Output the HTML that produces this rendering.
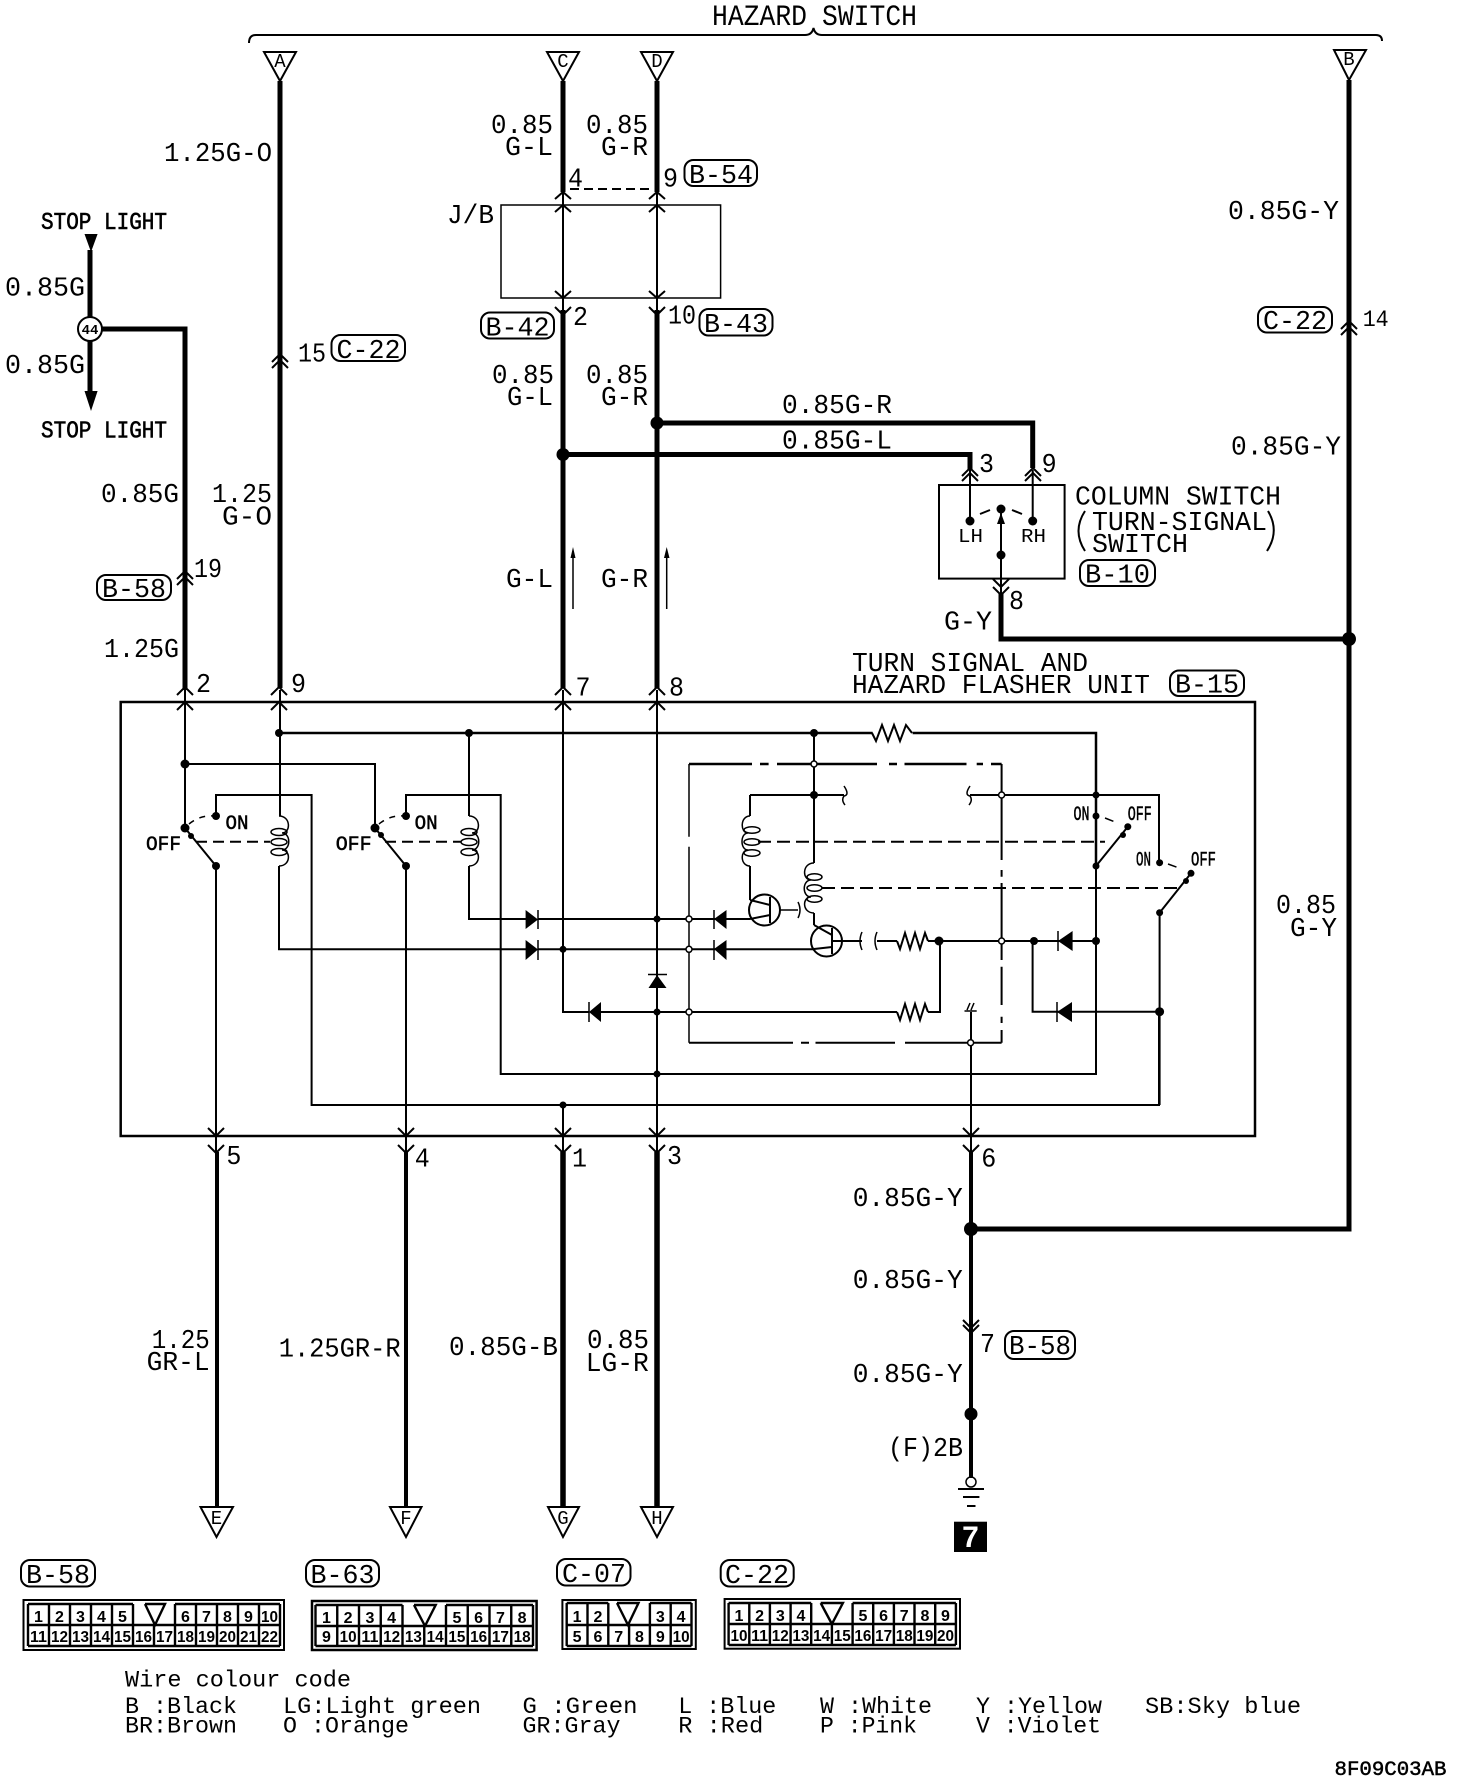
<!DOCTYPE html>
<html lang="en"><head><meta charset="utf-8"><title>Hazard switch wiring diagram</title>
<style>
html,body{margin:0;padding:0;background:#fff}
svg{display:block}
text{font-family:"Liberation Mono",monospace;fill:#000}
.a{font-size:27px}.b{font-size:24px;stroke:#000;stroke-width:.6}.c{font-size:20px;stroke:#000;stroke-width:.5}.d{font-size:23px}.h{font-size:30px}
.n text{font-family:"Liberation Sans",sans-serif;font-weight:bold;font-size:16px;text-anchor:middle}
.l{fill:none;stroke:#000;stroke-width:2}
.t{fill:none;stroke:#000;stroke-width:1.5}
.w{fill:none;stroke:#000;stroke-width:5}
.k{fill:#000;stroke:none}
.o{fill:#fff;stroke:#000;stroke-width:1.5}
.tri text{font-size:19px;text-anchor:middle}
.tri path{stroke-width:2}
</style></head><body>
<svg xmlns="http://www.w3.org/2000/svg" width="1472" height="1782" viewBox="0 0 1472 1782">
<rect width="1472" height="1782" fill="#fff"/>

<!-- brace -->
<path class="l" d="M249 43 Q249 35 256 35 L805 35 Q812 35 813.5 28 Q815 35 822 35 L1376 35 Q1382 35 1382 41"/>
<text class="h" x="712" y="25" textLength="95" lengthAdjust="spacingAndGlyphs">HAZARD</text>
<text class="h" x="822" y="25" textLength="95" lengthAdjust="spacingAndGlyphs">SWITCH</text>

<!-- top triangles -->
<g class="tri">
<path class="t" d="M264 52 L296 52 L280 81 Z M547 52 L579 52 L563 81 Z M641 52 L673 52 L657 81 Z M1334 50 L1366 50 L1349 80 Z"/>
<text x="280" y="67">A</text><text x="563" y="67">C</text><text x="657" y="67">D</text><text x="1349" y="65">B</text>
<path class="t" d="M200.5 1507 L233 1507 L216.5 1537 Z M390 1507 L421.5 1507 L406 1537 Z M548 1507 L579 1507 L563 1537 Z M641 1507 L673 1507 L657 1537 Z"/>
<text x="216.5" y="1524">E</text><text x="406" y="1524">F</text><text x="563" y="1524">G</text><text x="657" y="1524">H</text>
</g>

<!-- heavy wires -->
<path class="w" d="M280 81 V688 M563 81 V192 M657 81 V192 M563 310 V688 M657 310 V688 M1349 80 V1229 H971"/>
<path class="w" d="M657 423 H1032.7 V468 M563 454.5 H970 V470 M1001 594 V639 H1349"/>
<path class="w" d="M90 250 V395 M185 690 V329 H100"/>
<path class="w" style="stroke-width:4" d="M217 1152 V1508 M406 1152 V1508 M971 1152 V1478"/>
<path class="w" style="stroke-width:5.5" d="M563 1152 V1508 M657 1152 V1508"/>
<path class="k" d="M84.5 234 H97.6 L91 252 Z M84.5 391 H97.6 L91 411 Z"/>
<circle class="o" cx="90" cy="329" r="12" style="stroke-width:2"/>
<text x="90" y="334" font-size="14" font-weight="bold" text-anchor="middle">44</text>
<circle class="k" cx="657" cy="423" r="6.5"/><circle class="k" cx="563" cy="454.5" r="6.5"/>
<circle class="k" cx="1349" cy="639" r="7"/><circle class="k" cx="971" cy="1229" r="7"/><circle class="k" cx="971" cy="1414" r="6.5"/>

<!-- J/B -->
<rect class="t" x="501" y="205" width="219.6" height="93"/>
<path class="l" d="M563 190 V312 M657 190 V312"/>
<path class="l" stroke-dasharray="9 5" d="M570 189 H650"/>
<path class="l" d="M555 199 L563 192 L571 199 M555 212 L563 205 L571 212 M649 199 L657 192 L665 199 M649 212 L657 205 L665 212 M555 291 L563 298 L571 291 M555 307 L563 315 L571 307 M649 291 L657 298 L665 291 M649 307 L657 315 L665 307"/>

<!-- small arrows -->
<path class="t" d="M573 552 V609 M666.7 552 V609"/>
<path class="k" d="M573 547 L570.5 558 H575.5 Z M666.7 547 L664 558 H669.5 Z"/>

<!-- double chevrons -->
<path class="l" d="M272 362 L280 354 L288 362 M272 368 L280 360 L288 368 M177 579 L185 571 L193 579 M177 585 L185 577 L193 585 M1341 329 L1349 321 L1357 329 M1341 335 L1349 327 L1357 335"/>
<path class="l" d="M962 476 L970 468 L978 476 M962 481 L970 473 L978 481 M1025 476 L1033 468 L1041 476 M1025 481 L1033 473 L1041 481 M993 579 L1001 587 L1009 579 M993 587 L1001 595 L1009 587"/>
<path class="l" d="M963 1320 L971 1328 L979 1320 M963 1325 L971 1333 L979 1325"/>

<!-- column switch -->
<rect class="t" x="939" y="485" width="125.6" height="93.6" style="stroke-width:2"/>
<path class="l" d="M970 470 V521 M1032.7 470 V521 M1001 509 V594"/>
<circle class="k" cx="970" cy="521" r="4.5"/><circle class="k" cx="1032.7" cy="521" r="4.5"/><circle class="k" cx="1001" cy="509" r="4.5"/><circle class="k" cx="1001" cy="555" r="4.5"/>
<path class="k" d="M1001 513 L997 524 H1005 Z"/>
<path class="l" d="M980 514 L990 510 M1012 510 L1022 514"/>
<text x="958" y="542" font-size="19" textLength="25" lengthAdjust="spacingAndGlyphs">LH</text>
<text x="1021" y="542" font-size="19" textLength="25" lengthAdjust="spacingAndGlyphs">RH</text>
<path class="l" d="M1085 511 Q1072 531 1085 551 M1268 511 Q1280 531 1267 551"/>

<!-- flasher unit box -->
<rect class="l" x="120.7" y="702" width="1134.3" height="434" style="stroke-width:2.5"/>
<path class="l" d="M185 690 V828 M280 690 V816 M563 690 V1012 H589 M657 690 V1152 M216 866 V1154 M406 866 V1154 M563 1105 V1154 M971 1012 V1154"/>
<path class="l" d="M177 695 L185 687 L193 695 M177 710 L185 702 L193 710 M271 695 L279 687 L287 695 M271 710 L279 702 L287 710 M555 695 L563 687 L571 695 M555 710 L563 702 L571 710 M649 695 L657 687 L665 695 M649 710 L657 702 L665 710"/>
<path class="l" d="M208 1128 L216 1136 L224 1128 M208 1145 L216 1153 L224 1145 M398 1128 L406 1136 L414 1128 M398 1145 L406 1153 L414 1145 M555 1128 L563 1136 L571 1128 M555 1145 L563 1153 L571 1145 M649 1128 L657 1136 L665 1128 M649 1145 L657 1153 L665 1145 M963 1128 L971 1136 L979 1128 M963 1145 L971 1153 L979 1145"/>

<!-- left relays -->
<path class="l" style="stroke-width:2.5" d="M279 733 H872.6 M912.6 733 H1096 V866"/>
<path class="l" d="M469 733 V816 M279 866 V949.3 H526 M469 866 V919 H526"/>
<path class="l" d="M185 764 H375 V828 M216 816 V795 H311.6 V1105 H1159 V1011.7 M406 816 V795 H500.7 V1074 H1096 V941"/>
<path class="l" d="M185 828 L216 866 M375 828 L406 866"/>
<path class="t" stroke-dasharray="6 6" d="M189 824 Q200 815 214 816 M379 824 Q390 815 404 816"/>
<path class="l" stroke-dasharray="11 6" d="M196 841.7 H270 M385 841.7 H461"/>
<path class="t" d="M279 816 C291 816 291 833 282 833 C291 833 291 850 282 850 C291 850 291 866 279 866 M469 816 C481 816 481 833 472 833 C481 833 481 850 472 850 C481 850 481 866 469 866"/>
<ellipse class="t" cx="279" cy="832" rx="8" ry="3.5"/><ellipse class="t" cx="279" cy="842" rx="8" ry="3.5"/><ellipse class="t" cx="279" cy="852" rx="8" ry="3.5"/>
<ellipse class="t" cx="469" cy="832" rx="8" ry="3.5"/><ellipse class="t" cx="469" cy="842" rx="8" ry="3.5"/><ellipse class="t" cx="469" cy="852" rx="8" ry="3.5"/>
<g class="k">
<circle cx="185" cy="764" r="4.5"/><circle cx="279" cy="733" r="4"/><circle cx="469" cy="733" r="4"/><circle cx="185" cy="828" r="4.5"/><circle cx="191" cy="836" r="3"/><circle cx="216" cy="816" r="4"/><circle cx="216" cy="866" r="4"/>
<circle cx="375" cy="828" r="4.5"/><circle cx="381" cy="835" r="3"/><circle cx="406" cy="816" r="4"/><circle cx="406" cy="866" r="4"/>
<circle cx="563" cy="949.3" r="3.5"/><circle cx="657" cy="919" r="3.5"/><circle cx="657" cy="1012" r="3.5"/><circle cx="657" cy="1074" r="3.5"/><circle cx="563" cy="1105" r="3.5"/>
</g>

<!-- diodes -->
<path class="k" d="M525.6 910 L538 919.5 L525.6 929 Z M525.6 940 L538 949.5 L525.6 960 Z M601 1002 L589 1012 L601 1022 Z M726.5 910 L714 919 L726.5 929 Z M726.5 940 L714 949 L726.5 960 Z M1072.6 931 L1058 941 L1072.6 951 Z M1072 1002 L1057 1012 L1072 1022 Z M648.5 988 L657 975 L666.5 988 Z"/>
<path class="t" d="M538 910 V929 M538 940 V960 M589 1002 V1022 M714 910 V929 M714 940 V960 M1058 931 V951 M1057 1002 V1022 M648 974.5 H667"/>

<!-- horizontal rails -->
<path class="l" d="M538 919 H750 M538 949.3 H814 M601 1012 H897 M928 1012 H940 V941 M928 941 H1096 M1032.6 941 V1011.7 H1072 H1159.6 M862 941 H832 M877 941 H897"/>
<path class="l" d="M814 733 V863 M750 795 H844 M970 795 H1159 V862.7 M750 795 V816 M750 866 V900 M814 913 V925 M1096 866 V1074 M1159.6 912.7 V1105"/>

<!-- dash-dot rectangle -->
<path class="l" style="stroke-width:2.5" d="M689 764 H752 M760 764 H768.6 M777 764 H877 M889 764 H897 M904.5 764 H966.5 M976.7 764 H983 M991 764 H1001.6"/>
<path class="t" d="M689 764 V836.7 M689 846.7 V1042.7"/>
<path class="l" d="M1001.6 764 V860 M1001.6 870 V876.7 M1001.6 883 V960 M1001.6 966.7 V1005 M1001.6 1016.7 V1023 M1001.6 1030 V1042.7"/>
<path class="l" d="M689 1042.7 H793 M801 1042.7 H809 M815.5 1042.7 H895 M905 1042.7 H1001.6"/>

<!-- resistors -->
<path class="l" d="M872 733 L876 741 L882 725 L888 741 L894 725 L900 741 L906 725 L912 733 M897 941 L900 949 L905 933 L910 949 L915 933 L920 949 L925 933 L928 941 M897 1012 L900 1020 L905 1004 L910 1020 L915 1004 L920 1020 L925 1004 L928 1012"/>

<!-- breaks -->
<path class="t" d="M844 786 Q850 795 844 796 Q841 800 845 805 M970 786 Q964 795 970 796 Q973 800 969 805 M862 932 Q858 941 862 950 M877 932 Q873 941 877 950 M798 902 Q802 910 798 918"/>
<path class="t" d="M964.5 1011 H976.7 M967 1010 L970 1003 M971 1010 L974 1003"/>

<!-- inner coils -->
<path class="t" d="M814 863 C802 863 802 880 811 880 C802 880 802 897 811 897 C802 897 802 913 814 913 M750 816 C740 816 740 833 748 833 C740 833 740 850 748 850 C740 850 740 866 750 866"/>
<ellipse class="t" cx="814.5" cy="877" rx="7.5" ry="3.2"/><ellipse class="t" cx="814.5" cy="888" rx="7.5" ry="3.2"/><ellipse class="t" cx="814.5" cy="899" rx="7.5" ry="3.2"/>
<ellipse class="t" cx="752" cy="830" rx="8" ry="3.2"/><ellipse class="t" cx="752" cy="842" rx="8" ry="3.2"/><ellipse class="t" cx="752" cy="853" rx="8" ry="3.2"/>

<!-- transistors -->
<circle class="l" cx="764.5" cy="910" r="15.5"/><circle class="l" cx="826.5" cy="941" r="15.5"/>
<path class="l" d="M770 897 V923 M750 900 L770 905 M770 915 L750 919 M832 928 V954 M814 925 L832 935 M832 947 L814 949"/>
<path class="t" d="M780 910 H798 M842 941 H862"/>

<!-- right switches -->
<path class="l" d="M1096 866 L1127.8 826.7 M1159.6 912.7 L1191 873.3"/>
<path class="t" stroke-dasharray="9 20" d="M1105 818 L1128 827 M1168 864 L1190 872"/>
<path class="l" stroke-dasharray="13 6" d="M758 841.7 H1105"/>
<path class="l" stroke-dasharray="13 6" d="M822 888 H1181"/>
<g class="k">
<circle cx="1096" cy="795" r="3.5"/><circle cx="1096" cy="816" r="3.5"/><circle cx="1127.8" cy="826.7" r="3.5"/><circle cx="1123" cy="835" r="3"/><circle cx="1096" cy="866" r="3.5"/>
<circle cx="1159.6" cy="862.7" r="3.5"/><circle cx="1191" cy="873.3" r="3.5"/><circle cx="1186" cy="881" r="3"/><circle cx="1159.6" cy="912.7" r="3.5"/>
<circle cx="814" cy="733" r="4"/><circle cx="814" cy="795" r="4"/><circle cx="939" cy="941" r="4.5"/><circle cx="1034" cy="941" r="4"/><circle cx="1096" cy="941" r="4"/><circle cx="1159.6" cy="1011.7" r="4.5"/>
</g>
<g class="o"><circle cx="689" cy="919" r="3"/><circle cx="689" cy="949.3" r="3"/><circle cx="689" cy="1012" r="3"/><circle cx="814" cy="764" r="3"/><circle cx="1001.6" cy="795" r="3"/><circle cx="1001.6" cy="941" r="3"/><circle cx="970.6" cy="1042.7" r="3"/></g>

<!-- ground -->
<circle class="t" cx="971" cy="1482" r="5"/>
<path class="l" d="M958 1489 H984 M963 1497 H979.4 M967 1506 H975.5"/>
<rect x="954" y="1521.7" width="33" height="30.3" fill="#000"/>
<text x="970.5" y="1547" font-size="30" font-weight="bold" text-anchor="middle" style="fill:#fff;font-family:'Liberation Sans',sans-serif">7</text>

<!-- labels -->
<g class="b">
<text x="41" y="229" textLength="126" lengthAdjust="spacingAndGlyphs">STOP LIGHT</text>
<text x="41" y="437.5" textLength="126" lengthAdjust="spacingAndGlyphs">STOP LIGHT</text>
</g>
<g class="a">
<text x="164" y="161" textLength="108" lengthAdjust="spacingAndGlyphs">1.25G-O</text>
<text x="5" y="295.5" textLength="80" lengthAdjust="spacingAndGlyphs">0.85G</text>
<text x="5" y="373" textLength="80" lengthAdjust="spacingAndGlyphs">0.85G</text>
<text x="101" y="502" textLength="78" lengthAdjust="spacingAndGlyphs">0.85G</text>
<text x="212" y="502" textLength="60" lengthAdjust="spacingAndGlyphs">1.25</text>
<text x="222" y="524.5" textLength="50" lengthAdjust="spacingAndGlyphs">G-O</text>
<text x="194" y="577" textLength="28" lengthAdjust="spacingAndGlyphs">19</text>
<text x="104" y="657" textLength="75" lengthAdjust="spacingAndGlyphs">1.25G</text>
<text x="196" y="692" textLength="15" lengthAdjust="spacingAndGlyphs">2</text>
<text x="291" y="692" textLength="15" lengthAdjust="spacingAndGlyphs">9</text>
<text x="298" y="361.6" textLength="28" lengthAdjust="spacingAndGlyphs">15</text>
<text x="491" y="133" textLength="62" lengthAdjust="spacingAndGlyphs">0.85</text>
<text x="505" y="155" textLength="48" lengthAdjust="spacingAndGlyphs">G-L</text>
<text x="586" y="133" textLength="62" lengthAdjust="spacingAndGlyphs">0.85</text>
<text x="601" y="155" textLength="47" lengthAdjust="spacingAndGlyphs">G-R</text>
<text x="568" y="186.6" textLength="15" lengthAdjust="spacingAndGlyphs">4</text>
<text x="663" y="186.6" textLength="15" lengthAdjust="spacingAndGlyphs">9</text>
<text x="447" y="223" textLength="47" lengthAdjust="spacingAndGlyphs">J/B</text>
<text x="573" y="325" textLength="15" lengthAdjust="spacingAndGlyphs">2</text>
<text x="668" y="323.7" textLength="28" lengthAdjust="spacingAndGlyphs">10</text>
<text x="492" y="383" textLength="62" lengthAdjust="spacingAndGlyphs">0.85</text>
<text x="507" y="405" textLength="46" lengthAdjust="spacingAndGlyphs">G-L</text>
<text x="586" y="383" textLength="62" lengthAdjust="spacingAndGlyphs">0.85</text>
<text x="601" y="405" textLength="47" lengthAdjust="spacingAndGlyphs">G-R</text>
<text x="506" y="587" textLength="47" lengthAdjust="spacingAndGlyphs">G-L</text>
<text x="601" y="587" textLength="47" lengthAdjust="spacingAndGlyphs">G-R</text>
<text x="575.5" y="695.5" textLength="15" lengthAdjust="spacingAndGlyphs">7</text>
<text x="669" y="695.5" textLength="15" lengthAdjust="spacingAndGlyphs">8</text>
<text x="782" y="413" textLength="110" lengthAdjust="spacingAndGlyphs">0.85G-R</text>
<text x="782" y="448.6" textLength="110" lengthAdjust="spacingAndGlyphs">0.85G-L</text>
<text x="979" y="472" textLength="15" lengthAdjust="spacingAndGlyphs">3</text>
<text x="1041.6" y="472" textLength="15" lengthAdjust="spacingAndGlyphs">9</text>
<text x="1075" y="504.5" textLength="206" lengthAdjust="spacingAndGlyphs">COLUMN SWITCH</text>
<text x="1092" y="530" textLength="175" lengthAdjust="spacingAndGlyphs">TURN-SIGNAL</text>
<text x="1092" y="552" textLength="96" lengthAdjust="spacingAndGlyphs">SWITCH</text>
<text x="1009" y="609" textLength="15" lengthAdjust="spacingAndGlyphs">8</text>
<text x="944" y="629.5" textLength="48" lengthAdjust="spacingAndGlyphs">G-Y</text>
<text x="852" y="671" textLength="236" lengthAdjust="spacingAndGlyphs">TURN SIGNAL AND</text>
<text x="852" y="693" textLength="298" lengthAdjust="spacingAndGlyphs">HAZARD FLASHER UNIT</text>
<text x="1228" y="219" textLength="111" lengthAdjust="spacingAndGlyphs">0.85G-Y</text>
<text x="1362.7" y="326" textLength="26" lengthAdjust="spacingAndGlyphs" style="font-size:23px">14</text>
<text x="1231" y="454.5" textLength="110" lengthAdjust="spacingAndGlyphs">0.85G-Y</text>
<text x="1276" y="913" textLength="60" lengthAdjust="spacingAndGlyphs">0.85</text>
<text x="1290" y="936" textLength="47" lengthAdjust="spacingAndGlyphs">G-Y</text>
<text x="226.4" y="1164" textLength="15" lengthAdjust="spacingAndGlyphs">5</text>
<text x="414.7" y="1166.7" textLength="15" lengthAdjust="spacingAndGlyphs">4</text>
<text x="572" y="1166.7" textLength="15" lengthAdjust="spacingAndGlyphs">1</text>
<text x="667" y="1164" textLength="15" lengthAdjust="spacingAndGlyphs">3</text>
<text x="981.3" y="1166.7" textLength="15" lengthAdjust="spacingAndGlyphs">6</text>
<text x="151.8" y="1348" textLength="58" lengthAdjust="spacingAndGlyphs">1.25</text>
<text x="146.6" y="1370" textLength="63" lengthAdjust="spacingAndGlyphs">GR-L</text>
<text x="278.7" y="1356.7" textLength="122" lengthAdjust="spacingAndGlyphs">1.25GR-R</text>
<text x="449" y="1355" textLength="109" lengthAdjust="spacingAndGlyphs">0.85G-B</text>
<text x="587" y="1348" textLength="62" lengthAdjust="spacingAndGlyphs">0.85</text>
<text x="585.8" y="1371" textLength="63" lengthAdjust="spacingAndGlyphs">LG-R</text>
<text x="852.7" y="1206" textLength="110" lengthAdjust="spacingAndGlyphs">0.85G-Y</text>
<text x="852.7" y="1288" textLength="110" lengthAdjust="spacingAndGlyphs">0.85G-Y</text>
<text x="852.7" y="1382" textLength="110" lengthAdjust="spacingAndGlyphs">0.85G-Y</text>
<text x="980" y="1352" textLength="15" lengthAdjust="spacingAndGlyphs">7</text>
<text x="888" y="1456" textLength="75" lengthAdjust="spacingAndGlyphs">(F)2B</text>
</g>
<g class="c">
<text x="146" y="850" textLength="35" lengthAdjust="spacingAndGlyphs">OFF</text>
<text x="335.7" y="850" textLength="36" lengthAdjust="spacingAndGlyphs">OFF</text>
<text x="225.5" y="829" textLength="23" lengthAdjust="spacingAndGlyphs">ON</text>
<text x="414.6" y="829" textLength="23" lengthAdjust="spacingAndGlyphs">ON</text>
<text x="1073.5" y="820" textLength="16" lengthAdjust="spacingAndGlyphs">ON</text>
<text x="1127.8" y="820" textLength="24" lengthAdjust="spacingAndGlyphs">OFF</text>
<text x="1136" y="865.7" textLength="15" lengthAdjust="spacingAndGlyphs">ON</text>
<text x="1191" y="865.7" textLength="25" lengthAdjust="spacingAndGlyphs">OFF</text>
<text x="1334.5" y="1775" textLength="112" lengthAdjust="spacingAndGlyphs">8F09C03AB</text>
</g>

<!-- badges -->
<g class="t" style="stroke-width:2">
<rect x="97" y="575" width="74" height="25" rx="9"/><rect x="331.5" y="335" width="73.5" height="26" rx="9"/><rect x="684.5" y="160" width="72.5" height="26" rx="9"/><rect x="481" y="312.5" width="73" height="26" rx="9"/><rect x="699.5" y="309" width="73" height="26.5" rx="9"/><rect x="1258" y="307" width="74" height="25.5" rx="9"/><rect x="1080" y="560" width="75" height="26" rx="9"/><rect x="1170" y="670.5" width="74" height="25.5" rx="9"/><rect x="1005" y="1331" width="70" height="28" rx="9"/><rect x="21" y="1560" width="74" height="26.5" rx="9"/><rect x="306" y="1560" width="73" height="26.5" rx="9"/><rect x="557" y="1559" width="73.5" height="26.5" rx="9"/><rect x="720.7" y="1560" width="73" height="26.5" rx="9"/>
</g>
<g class="a">
<text x="102" y="597" textLength="64" lengthAdjust="spacingAndGlyphs">B-58</text>
<text x="336.5" y="358" textLength="64" lengthAdjust="spacingAndGlyphs">C-22</text>
<text x="689" y="183" textLength="64" lengthAdjust="spacingAndGlyphs">B-54</text>
<text x="485.5" y="335.5" textLength="64" lengthAdjust="spacingAndGlyphs">B-42</text>
<text x="704" y="332" textLength="64" lengthAdjust="spacingAndGlyphs">B-43</text>
<text x="1263" y="329" textLength="64" lengthAdjust="spacingAndGlyphs">C-22</text>
<text x="1085" y="582.5" textLength="65" lengthAdjust="spacingAndGlyphs">B-10</text>
<text x="1175" y="692.5" textLength="64" lengthAdjust="spacingAndGlyphs">B-15</text>
<text x="1009" y="1354" textLength="62" lengthAdjust="spacingAndGlyphs">B-58</text>
<text x="26" y="1583" textLength="64" lengthAdjust="spacingAndGlyphs">B-58</text>
<text x="310.5" y="1583" textLength="64" lengthAdjust="spacingAndGlyphs">B-63</text>
<text x="562" y="1582" textLength="64" lengthAdjust="spacingAndGlyphs">C-07</text>
<text x="725" y="1583" textLength="64" lengthAdjust="spacingAndGlyphs">C-22</text>
</g>

<!-- connector B-58 -->
<rect class="l" x="23.5" y="1600" width="260.5" height="50"/>
<path class="l" style="stroke-width:2.4" d="M28 1604 H133 M175 1604 H280 M28 1625 H280 M28 1646 H280 M28 1604 V1646 M280 1604 V1646 M49 1604 V1646 M70 1604 V1646 M91 1604 V1646 M112 1604 V1646 M133 1604 V1646 M154 1625 V1646 M175 1604 V1646 M196 1604 V1646 M217 1604 V1646 M238 1604 V1646 M259 1604 V1646 M145 1604 L155 1625 L165 1604 H145"/>
<g class="n">
<text x="38.5" y="1622">1</text><text x="59.5" y="1622">2</text><text x="80.5" y="1622">3</text><text x="101.5" y="1622">4</text><text x="122.5" y="1622">5</text><text x="185.5" y="1622">6</text><text x="206.5" y="1622">7</text><text x="227.5" y="1622">8</text><text x="248.5" y="1622">9</text><text x="269.5" y="1622" textLength="17" lengthAdjust="spacingAndGlyphs">10</text>
<text x="38.5" y="1642" textLength="17" lengthAdjust="spacingAndGlyphs">11</text><text x="59.5" y="1642" textLength="17" lengthAdjust="spacingAndGlyphs">12</text><text x="80.5" y="1642" textLength="17" lengthAdjust="spacingAndGlyphs">13</text><text x="101.5" y="1642" textLength="17" lengthAdjust="spacingAndGlyphs">14</text><text x="122.5" y="1642" textLength="17" lengthAdjust="spacingAndGlyphs">15</text><text x="143.5" y="1642" textLength="17" lengthAdjust="spacingAndGlyphs">16</text><text x="164.5" y="1642" textLength="17" lengthAdjust="spacingAndGlyphs">17</text><text x="185.5" y="1642" textLength="17" lengthAdjust="spacingAndGlyphs">18</text><text x="206.5" y="1642" textLength="17" lengthAdjust="spacingAndGlyphs">19</text><text x="227.5" y="1642" textLength="17" lengthAdjust="spacingAndGlyphs">20</text><text x="248.5" y="1642" textLength="17" lengthAdjust="spacingAndGlyphs">21</text><text x="269.5" y="1642" textLength="17" lengthAdjust="spacingAndGlyphs">22</text>
</g>

<!-- connector B-63 -->
<rect class="l" x="312" y="1601" width="224.6" height="49" style="stroke-width:2.5"/>
<path class="l" style="stroke-width:2.4" d="M315.5 1605 H402.5 M446 1605 H533 M315.5 1626 H533 M315.5 1646 H533 M315.5 1605 V1646 M533 1605 V1646 M337.25 1605 V1646 M359 1605 V1646 M380.75 1605 V1646 M402.5 1605 V1646 M424.25 1626 V1646 M446 1605 V1646 M467.75 1605 V1646 M489.5 1605 V1646 M511.25 1605 V1646 M414 1605 L425 1626 L435.7 1605 H414"/>
<g class="n">
<text x="326.4" y="1623">1</text><text x="348.1" y="1623">2</text><text x="369.9" y="1623">3</text><text x="391.6" y="1623">4</text><text x="456.9" y="1623">5</text><text x="478.6" y="1623">6</text><text x="500.4" y="1623">7</text><text x="522.1" y="1623">8</text>
<text x="326.4" y="1642">9</text><text x="348.1" y="1642" textLength="17" lengthAdjust="spacingAndGlyphs">10</text><text x="369.9" y="1642" textLength="17" lengthAdjust="spacingAndGlyphs">11</text><text x="391.6" y="1642" textLength="17" lengthAdjust="spacingAndGlyphs">12</text><text x="413.4" y="1642" textLength="17" lengthAdjust="spacingAndGlyphs">13</text><text x="435.1" y="1642" textLength="17" lengthAdjust="spacingAndGlyphs">14</text><text x="456.9" y="1642" textLength="17" lengthAdjust="spacingAndGlyphs">15</text><text x="478.6" y="1642" textLength="17" lengthAdjust="spacingAndGlyphs">16</text><text x="500.4" y="1642" textLength="17" lengthAdjust="spacingAndGlyphs">17</text><text x="522.1" y="1642" textLength="17" lengthAdjust="spacingAndGlyphs">18</text>
</g>

<!-- connector C-07 -->
<rect class="l" x="562.4" y="1600" width="133.4" height="49"/>
<path class="l" style="stroke-width:2.4" d="M566.7 1603 H608.3 M649.9 1603 H691.5 M566.7 1625 H691.5 M566.7 1646 H691.5 M566.7 1603 V1646 M691.5 1603 V1646 M587.5 1603 V1646 M608.3 1603 V1646 M629.1 1625 V1646 M649.9 1603 V1646 M670.7 1603 V1646 M617 1603 L628 1625 L638.5 1603 H617"/>
<g class="n">
<text x="577.1" y="1622">1</text><text x="597.9" y="1622">2</text><text x="660.3" y="1622">3</text><text x="681.1" y="1622">4</text>
<text x="577.1" y="1642">5</text><text x="597.9" y="1642">6</text><text x="618.7" y="1642">7</text><text x="639.5" y="1642">8</text><text x="660.3" y="1642">9</text><text x="681.1" y="1642" textLength="17" lengthAdjust="spacingAndGlyphs">10</text>
</g>

<!-- connector C-22 -->
<rect class="l" x="724.6" y="1599" width="235.4" height="49.7"/>
<path class="l" style="stroke-width:2.4" d="M728.6 1603 H811.2 M852.6 1603 H955.9 M728.6 1624 H955.9 M728.6 1645 H955.9 M728.6 1603 V1645 M955.9 1603 V1645 M749.3 1603 V1645 M769.9 1603 V1645 M790.6 1603 V1645 M811.2 1603 V1645 M831.9 1624 V1645 M852.6 1603 V1645 M873.2 1603 V1645 M893.9 1603 V1645 M914.5 1603 V1645 M935.2 1603 V1645 M820.7 1603 L831.9 1624 L842.9 1603 H820.7"/>
<g class="n">
<text x="739" y="1621">1</text><text x="759.6" y="1621">2</text><text x="780.3" y="1621">3</text><text x="800.9" y="1621">4</text><text x="862.9" y="1621">5</text><text x="883.6" y="1621">6</text><text x="904.2" y="1621">7</text><text x="924.9" y="1621">8</text><text x="945.5" y="1621">9</text>
<text x="739" y="1641" textLength="17" lengthAdjust="spacingAndGlyphs">10</text><text x="759.6" y="1641" textLength="17" lengthAdjust="spacingAndGlyphs">11</text><text x="780.3" y="1641" textLength="17" lengthAdjust="spacingAndGlyphs">12</text><text x="800.9" y="1641" textLength="17" lengthAdjust="spacingAndGlyphs">13</text><text x="821.6" y="1641" textLength="17" lengthAdjust="spacingAndGlyphs">14</text><text x="842.2" y="1641" textLength="17" lengthAdjust="spacingAndGlyphs">15</text><text x="862.9" y="1641" textLength="17" lengthAdjust="spacingAndGlyphs">16</text><text x="883.6" y="1641" textLength="17" lengthAdjust="spacingAndGlyphs">17</text><text x="904.2" y="1641" textLength="17" lengthAdjust="spacingAndGlyphs">18</text><text x="924.9" y="1641" textLength="17" lengthAdjust="spacingAndGlyphs">19</text><text x="945.5" y="1641" textLength="17" lengthAdjust="spacingAndGlyphs">20</text>
</g>

<!-- legend -->
<g class="d">
<text x="125" y="1686.7" textLength="226" lengthAdjust="spacingAndGlyphs">Wire colour code</text>
<text x="125" y="1713" textLength="112" lengthAdjust="spacingAndGlyphs">B :Black</text>
<text x="125" y="1732.7" textLength="112" lengthAdjust="spacingAndGlyphs">BR:Brown</text>
<text x="283" y="1713" textLength="198" lengthAdjust="spacingAndGlyphs">LG:Light green</text>
<text x="283" y="1732.7" textLength="126" lengthAdjust="spacingAndGlyphs">O :Orange</text>
<text x="522.5" y="1713" textLength="115" lengthAdjust="spacingAndGlyphs">G :Green</text>
<text x="522.5" y="1732.7" textLength="98" lengthAdjust="spacingAndGlyphs">GR:Gray</text>
<text x="678.3" y="1713" textLength="98" lengthAdjust="spacingAndGlyphs">L :Blue</text>
<text x="678.3" y="1732.7" textLength="85" lengthAdjust="spacingAndGlyphs">R :Red</text>
<text x="820" y="1713" textLength="112" lengthAdjust="spacingAndGlyphs">W :White</text>
<text x="820" y="1732.7" textLength="97" lengthAdjust="spacingAndGlyphs">P :Pink</text>
<text x="976" y="1713" textLength="126" lengthAdjust="spacingAndGlyphs">Y :Yellow</text>
<text x="976" y="1732.7" textLength="125" lengthAdjust="spacingAndGlyphs">V :Violet</text>
<text x="1145" y="1713" textLength="156" lengthAdjust="spacingAndGlyphs">SB:Sky blue</text>
</g>
</svg>
</body></html>
